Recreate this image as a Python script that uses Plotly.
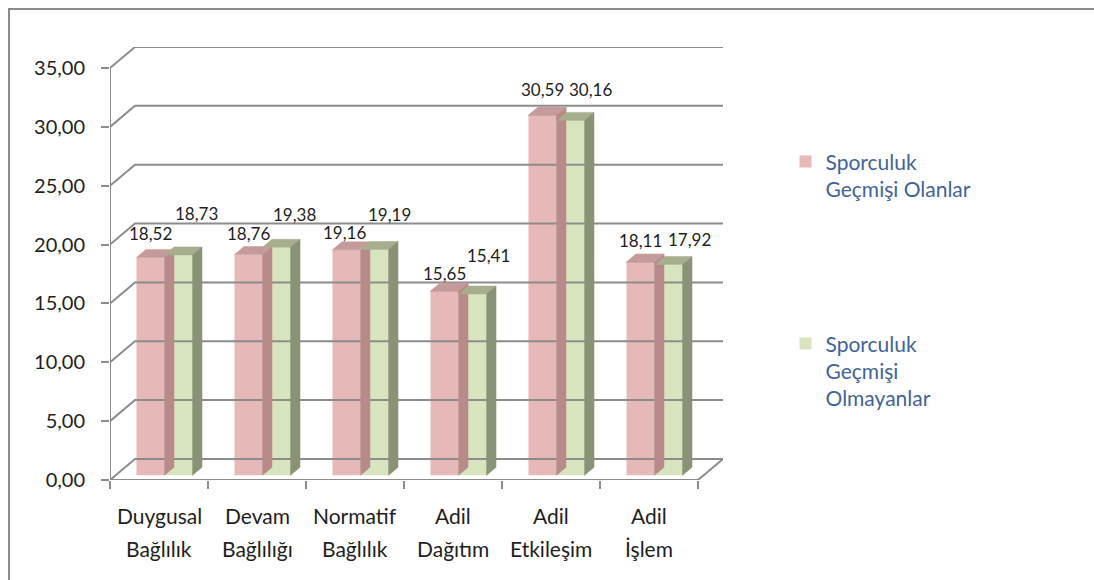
import plotly.graph_objects as go

# --- data -------------------------------------------------------------
categories = ["Duygusal\nBağlılık", "Devam\nBağlılığı", "Normatif\nBağlılık",
              "Adil\nDağıtım", "Adil\nEtkileşim", "Adil\nİşlem"]
series_names = ["Sporculuk<br>Geçmişi Olanlar", "Sporculuk<br>Geçmişi<br>Olmayanlar"]
olanlar = [18.52, 18.76, 19.16, 15.65, 30.59, 18.11]
olmayanlar = [18.73, 19.38, 19.19, 15.41, 30.16, 17.92]
y_ticks = [0, 5, 10, 15, 20, 25, 30, 35]

# --- styling ----------------------------------------------------------
FONT = "Lato"
TXT = "#1e1e1e"
GRID = "#8c8c8c"
PINK_FRONT, PINK_TOP, PINK_SIDE = "#e6b9b8", "#c49b9a", "#b88b8a"
GREEN_FRONT, GREEN_TOP, GREEN_SIDE = "#d7e4bd", "#a6ae8e", "#8a9276"

# pseudo-3D geometry (in axis units)
DX, DY = 0.255, 1.79          # full depth of the chart box
F0, F1 = 0.22, 0.60           # front / back depth of the bars
BW = 0.286                    # width of a single bar face
YMAX = 35

# label nudges (pixels)
pink_lbl_dx = [0, 0, -2, 0, 0, 0]
pink_lbl_dy = [24, 21, 17, 18, 26, 22]
green_lbl_dx = [18, 18, 15, 16, 20, 21]
green_lbl_dy = [41, 33, 35, 39, 31, 25]

n = len(categories)
xs = list(range(n))
base = F0 * DY
ddx, ddy = (F1 - F0) * DX, (F1 - F0) * DY
shift = F0 * DX


def fmt(v):
    return f"{v:.2f}".replace(".", ",")


def top_faces(vals, left_off):
    px, py = [], []
    for i, v in enumerate(vals):
        l = i + left_off + shift
        r = l + BW
        t = v + base
        px += [l, r, r + ddx, l + ddx, l, None]
        py += [t, t, t + ddy, t + ddy, t, None]
    return px, py


def side_faces(vals, left_off, lows=None):
    px, py = [], []
    for i, v in enumerate(vals):
        r = i + left_off + shift + BW
        t = v + base
        b = base if lows is None else lows[i] + base
        px += [r, r, r + ddx, r + ddx, r, None]
        py += [b, t, t + ddy, b + ddy, b, None]
    return px, py


fig = go.Figure()

# back wall grid lines, floor and front axes
gx, gy = [], []
for v in y_ticks:
    gx += [-0.5, -0.5 + DX, n - 0.5 + DX, None]
    gy += [v, v + DY, v + DY, None]
gx += [n - 0.5, n - 0.5 + DX, None, -0.5, n - 0.5, None, -0.5, -0.5]
gy += [0, DY, None, 0, 0, None, 0, YMAX]
fig.add_trace(go.Scatter(x=gx, y=gy, mode="lines", cliponaxis=False,
                         line=dict(color=GRID, width=2), hoverinfo="skip",
                         showlegend=False))

# first series
fig.add_trace(go.Bar(x=xs, y=olanlar, base=[base] * n, width=BW, offset=-BW + shift,
                     marker=dict(color=PINK_FRONT, line=dict(width=0)),
                     name=series_names[0], legend="legend"))
sx, sy = side_faces(olanlar, -BW)
fig.add_trace(go.Scatter(x=sx, y=sy, fill="toself", fillcolor=PINK_SIDE, mode="lines",
                         line=dict(width=0.5, color=PINK_SIDE), hoverinfo="skip",
                         showlegend=False))
tx, ty = top_faces(olanlar, -BW)
fig.add_trace(go.Scatter(x=tx, y=ty, fill="toself", fillcolor=PINK_TOP, mode="lines",
                         line=dict(width=0.5, color=PINK_TOP), hoverinfo="skip",
                         showlegend=False))

# second series
fig.add_trace(go.Bar(x=xs, y=olmayanlar, base=[base] * n, width=BW, offset=shift,
                     marker=dict(color=GREEN_FRONT, line=dict(width=0)),
                     name=series_names[1], legend="legend2"))
tx, ty = top_faces(olmayanlar, 0)
fig.add_trace(go.Scatter(x=tx, y=ty, fill="toself", fillcolor=GREEN_TOP, mode="lines",
                         line=dict(width=0.5, color=GREEN_TOP), hoverinfo="skip",
                         showlegend=False))
sx, sy = side_faces(olmayanlar, 0)
fig.add_trace(go.Scatter(x=sx, y=sy, fill="toself", fillcolor=GREEN_SIDE, mode="lines",
                         line=dict(width=0.5, color=GREEN_SIDE), hoverinfo="skip",
                         showlegend=False))

# where the first series is taller, its top and upper side stay in front
taller = [i for i in range(n) if olanlar[i] > olmayanlar[i]]
hi = [olanlar[i] for i in taller]
lo = [olmayanlar[i] for i in taller]
ox, oy, tx2, ty2 = [], [], [], []
for i, h, l in zip(taller, hi, lo):
    r = i + shift
    ox += [r, r, r + ddx, r + ddx, r, None]
    oy += [l + base, h + base, h + base + ddy, l + base + ddy, l + base, None]
    left = i - BW + shift
    tx2 += [left, r, r + ddx, left + ddx, left, None]
    ty2 += [h + base, h + base, h + base + ddy, h + base + ddy, h + base, None]
fig.add_trace(go.Scatter(x=ox, y=oy, fill="toself", fillcolor=PINK_SIDE, mode="lines",
                         line=dict(width=0.5, color=PINK_SIDE), hoverinfo="skip",
                         showlegend=False))
fig.add_trace(go.Scatter(x=tx2, y=ty2, fill="toself", fillcolor=PINK_TOP, mode="lines",
                         line=dict(width=0.5, color=PINK_TOP), hoverinfo="skip",
                         showlegend=False))

annotations = []
# value labels
for i, v in enumerate(olanlar):
    annotations.append(dict(x=i - BW / 2 + shift, y=v + base, xref="x", yref="y",
                            text=fmt(v), showarrow=False, xshift=pink_lbl_dx[i],
                            yshift=pink_lbl_dy[i], font=dict(family=FONT, size=17, color=TXT)))
for i, v in enumerate(olmayanlar):
    annotations.append(dict(x=i + BW / 2 + shift, y=v + base, xref="x", yref="y",
                            text=fmt(v), showarrow=False, xshift=green_lbl_dx[i],
                            yshift=green_lbl_dy[i], font=dict(family=FONT, size=17, color=TXT)))
# category labels (two lines each)
for i, c in enumerate(categories):
    for k, line in enumerate(c.split("\n")):
        annotations.append(dict(x=i, y=0, xref="x", yref="y", text=line, showarrow=False,
                                yshift=-35 - 33 * k, yanchor="middle",
                                font=dict(family=FONT, size=21, color=TXT)))

fig.update_layout(
    width=1094, height=580,
    margin=dict(l=110, r=371, t=47, b=100),
    paper_bgcolor="white", plot_bgcolor="white",
    separators=",.",
    barmode="overlay",
    font=dict(family=FONT, color=TXT),
    xaxis=dict(range=[-0.5, n - 0.5 + DX], showgrid=False, zeroline=False,
               showline=False, showticklabels=False, ticks="",
               minor=dict(ticks="outside", tickmode="array",
                          tickvals=[i - 0.5 for i in range(n + 1)],
                          ticklen=8, tickwidth=2, tickcolor=GRID, showgrid=False)),
    yaxis=dict(range=[0, YMAX + DY], tickmode="array", tickvals=y_ticks,
               tickformat=".2f", showgrid=False, zeroline=False, showline=False,
               ticks="outside", ticklen=8, tickwidth=2, tickcolor=GRID,
               ticklabelstandoff=12, tickfont=dict(family=FONT, size=20, color=TXT)),
    legend=dict(x=1.102, y=0.782, xanchor="left", yanchor="top", valign="top",
                font=dict(family=FONT, size=21, color="#41639a"), bgcolor="rgba(0,0,0,0)"),
    legend2=dict(x=1.102, y=0.362, xanchor="left", yanchor="top", valign="top",
                 font=dict(family=FONT, size=21, color="#41639a"), bgcolor="rgba(0,0,0,0)"),
    annotations=annotations,
    shapes=[dict(type="rect", xref="paper", yref="paper",
                 x0=(9 - 110) / 613, x1=(1110 - 110) / 613,
                 y0=(480 - 600) / 433, y1=(480 - 9) / 433,
                 line=dict(color=GRID, width=2), layer="below")],
    showlegend=True,
)

fig.write_html("out.html")
